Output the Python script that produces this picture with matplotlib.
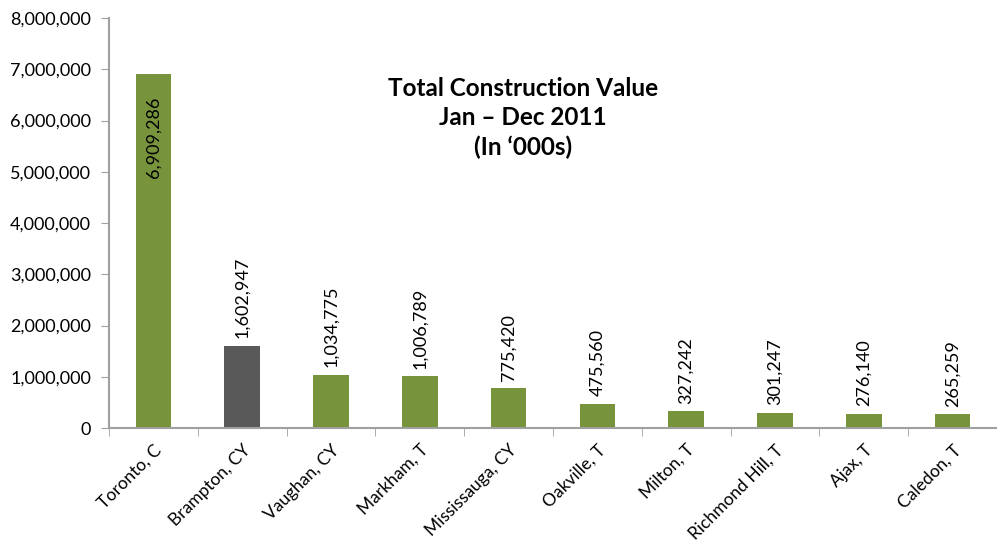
import matplotlib.pyplot as plt
from matplotlib.ticker import FuncFormatter

# data
cities = ['Toronto, C', 'Brampton, CY', 'Vaughan, CY', 'Markham, T', 'Mississauga, CY',
          'Oakville, T', 'Milton, T', 'Richmond Hill, T', 'Ajax, T', 'Caledon, T']
values = [6909286, 1602947, 1034775, 1006789, 775420, 475560, 327242, 301247, 276140, 265259]
colors = ['#77933C', '#595959'] + ['#77933C'] * 8

plt.rcParams['font.family'] = ['Lato', 'DejaVu Sans']

fig = plt.figure(figsize=(9.97, 5.42), dpi=100)
ax = fig.add_axes([0.1093, 0.2103, 0.8907, 0.7565])

x = range(len(cities))
bars = ax.bar(x, values, width=0.4, color=colors, zorder=2)

# value labels
for i, v in enumerate(values):
    if i == 0:
        ax.text(i, v - 450000, f'{v:,}', rotation=90, ha='center', va='top', fontsize=13)
    else:
        ax.text(i, v + 150000, f'{v:,}', rotation=90, ha='center', va='bottom', fontsize=13)

ax.set_xlim(-0.5, len(cities) - 0.5)
ax.set_ylim(0, 8000000)
ax.set_yticks(range(0, 8000001, 1000000))
ax.yaxis.set_major_formatter(FuncFormatter(lambda v, p: f'{int(v):,}'))

ax.set_xticks([i for i in x])
ax.set_xticklabels(cities, rotation=45, ha='right', rotation_mode='anchor', fontsize=12.5)
ax.set_xticks([i - 0.5 for i in range(len(cities) + 1)], minor=True)
ax.tick_params(axis='x', which='major', length=0, pad=10)
ax.tick_params(axis='x', which='minor', length=6, color='#A0A0A0', direction='out')
ax.tick_params(axis='y', length=6, color='#A0A0A0', labelsize=13, pad=7)

for s in ['top', 'right']:
    ax.spines[s].set_visible(False)
for s in ['left', 'bottom']:
    ax.spines[s].set_color('#A0A0A0')
    ax.spines[s].set_linewidth(1.5)

ax.text(0.466, 0.756, 'Total Construction Value\nJan \u2013 Dec 2011\n(In \u2018000s)', transform=ax.transAxes,
        ha='center', va='center', fontsize=17.5, fontweight='bold', linespacing=1.3)

fig.savefig('out.png', dpi=100)
